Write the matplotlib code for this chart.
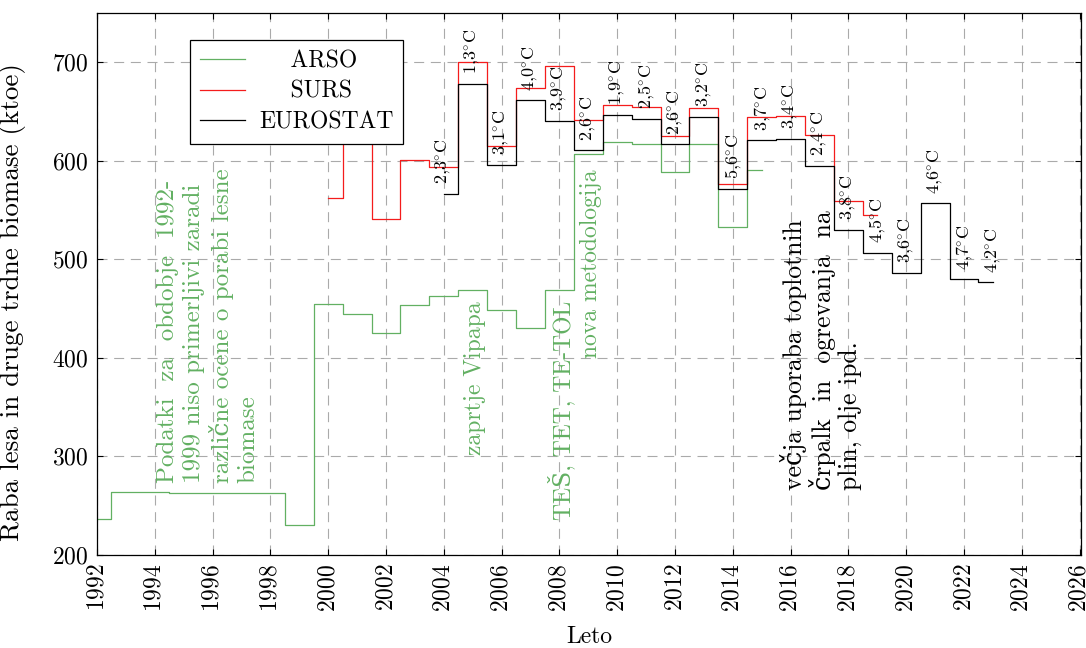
import numpy as np
import matplotlib
matplotlib.use('Agg')
import matplotlib.pyplot as plt

plt.rcParams['font.family'] = ['cmr10', 'DejaVu Serif']
plt.rcParams['mathtext.fontset'] = 'cm'
plt.rcParams['axes.formatter.use_mathtext'] = True
plt.rcParams['axes.unicode_minus'] = False

# ARSO 1992-2015
years_arso = list(range(1992, 2016))
arso = [236.5, 264, 263.5, 263, 263, 263, 263, 230.5, 454.5, 444.5, 425.5, 453.5,
        463, 469, 448.5, 430, 468.5, 606.5, 619, 616.5, 588.5, 616.5, 533, 590]

# SURS 2000-2019
years_surs = list(range(2000, 2020))
surs = [562, 650, 540.5, 600.5, 593.5, 700.5, 615, 674, 695.5, 641, 656.5, 654.5,
        625, 653.5, 576, 644.5, 645.5, 625.5, 559, 544.5]

# EUROSTAT 2004-2023
years_euro = list(range(2004, 2024))
euro = [566.5, 678, 595.5, 661, 640, 610.5, 646.5, 642.5, 616.5, 644.5, 571.5,
        620.5, 622, 594.5, 530, 506.5, 486, 556.5, 479.5, 476.5]

# povprecna temperatura ogrevalne sezone
temps = ['2,3', '1,3', '3,1', '4,0', '3,9', '2,6', '1,9', '2,5',
         '2,6', '3,2', '5,6', '3,7', '3,4', '2,4', '3,8', '4,5',
         '3,6', '4,6', '4,7', '4,2']

green = '#62b062'
red = '#f41c1c'

fig = plt.figure(figsize=(10.86, 6.48), dpi=100)
ax = fig.add_axes([0.0893, 0.1435, 0.9061, 0.8369])

ax.step(years_arso, arso, where='mid', color=green, lw=0.9, label='    ARSO')
ax.step(years_surs, surs, where='mid', color=red, lw=0.9, label='    SURS')
ax.step(years_euro, euro, where='mid', color='black', lw=0.9, label='EUROSTAT')

for yr, val, t in zip(years_euro, euro, temps):
    ax.annotate(t + r'$^{\circ}$C', (yr, val), xytext=(0, 7), textcoords='offset points',
                rotation=90, ha='center', va='bottom', fontsize=13)

ax.text(1994.08, 273, 'Podatki  za  obdobje  1992-\n1999 niso primerljivi zaradi\n'
        'različne ocene o porabi lesne\nbiomase', rotation=90, ha='left',
        va='bottom', color=green, fontsize=18, linespacing=1.2,
        multialignment='left')
ax.text(2004.7, 301, 'zaprtje Vipapa', rotation=90, ha='left', va='bottom',
        color=green, fontsize=17)
ax.text(2007.58, 236, 'TEŠ, TET, TE-TOL', rotation=90, ha='left', va='bottom',
        color=green, fontsize=17)
ax.text(2008.72, 400, 'nova metodologija', rotation=90, ha='left', va='bottom',
        color=green, fontsize=17)
ax.text(2015.64, 266, 'večja uporaba toplotnih\nčrpalk  in  ogrevanja  na\nplin, olje ipd.',
        rotation=90, ha='left', va='bottom', color='black', fontsize=18.5,
        linespacing=1.1, multialignment='left')

ax.set_xlim(1992, 2026.05)
ax.set_ylim(200, 750)
ax.set_xticks(range(1992, 2027, 2))
ax.set_yticks(range(200, 701, 100))
ax.tick_params(direction='in', top=True, right=True, length=4, labelsize=17, pad=6)
ax.tick_params(axis='x', labelrotation=90)
ax.grid(True, color='#aaaaaa', linestyle=(0, (9, 6)), lw=0.8)
ax.set_axisbelow(True)
for s in ax.spines.values():
    s.set_linewidth(0.9)

ax.set_xlabel('Leto', fontsize=17, labelpad=10)
ax.set_ylabel('Raba lesa in druge trdne biomase (ktoe)', fontsize=19.5)
ax.yaxis.set_label_coords(-0.0725, 0.466)

leg = ax.legend(loc='upper left', bbox_to_anchor=(0.0945, 0.9497), borderaxespad=0,
                fancybox=False, edgecolor='black', framealpha=1, fontsize=17,
                handlelength=1.9, labelspacing=0.37, borderpad=0.42, handletextpad=0.6)
leg.get_frame().set_linewidth(0.9)

plt.savefig('out.png', dpi=100)
